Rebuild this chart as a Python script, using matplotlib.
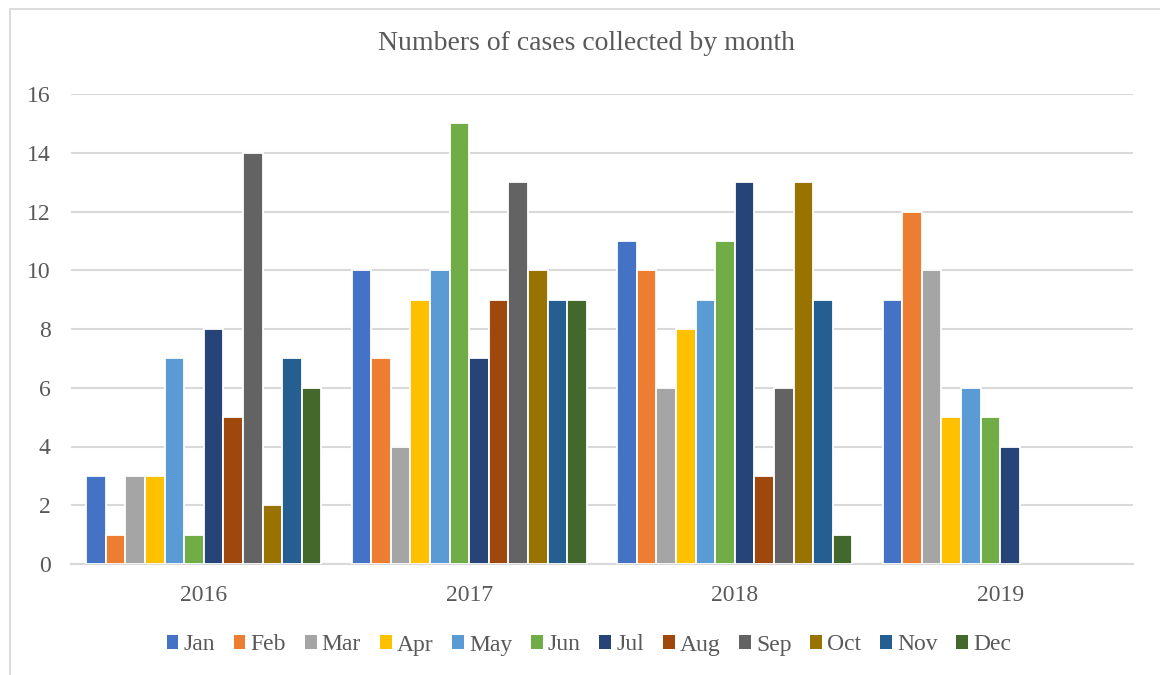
import numpy as np
import matplotlib
matplotlib.use("Agg")
import matplotlib.pyplot as plt
from matplotlib.patches import Rectangle

years = ["2016", "2017", "2018", "2019"]
months = ["Jan", "Feb", "Mar", "Apr", "May", "Jun", "Jul", "Aug", "Sep", "Oct", "Nov", "Dec"]
colors = ["#4472C4", "#ED7D31", "#A5A5A5", "#FFC000", "#5B9BD5", "#70AD47",
          "#264478", "#9E480E", "#636363", "#997300", "#255E91", "#43682B"]

# cases per month, one list per month across the years
jan = [3, 10, 11, 9]
feb = [1, 7, 10, 12]
mar = [3, 4, 6, 10]
apr = [3, 9, 8, 5]
may = [7, 10, 9, 6]
jun = [1, 15, 11, 5]
jul = [8, 7, 13, 4]
aug = [5, 9, 3, np.nan]
sep = [14, 13, 6, np.nan]
oct_ = [2, 10, 13, np.nan]
nov = [7, 9, 9, np.nan]
dec = [6, 9, 1, np.nan]
series = [jan, feb, mar, apr, may, jun, jul, aug, sep, oct_, nov, dec]

plt.rcParams["font.family"] = ["Liberation Serif", "DejaVu Serif"]
text_color = "#595959"

fig = plt.figure(figsize=(11.6, 6.75), dpi=100)
ax = fig.add_axes([71 / 1160, 1 - 564 / 675, (1133 - 71) / 1160, (564 - 94) / 675])

# chart frame (left and top edges visible)
fig.add_artist(Rectangle((9.5 / 1160, -0.05), 1.2, 1 - 8.5 / 675 + 0.05,
                         transform=fig.transFigure, fill=False,
                         edgecolor="#d9d9d9", linewidth=1.3))

x = np.arange(len(years))
slot = 0.0738
for i, (vals, c, m) in enumerate(zip(series, colors, months)):
    offs = (i - 5.5) * slot
    ax.bar(x + offs, vals, width=slot, color=c, edgecolor="white",
           linewidth=1.3, label=m, zorder=3)

ax.set_xlim(-0.5, 3.5)
ax.set_ylim(0, 16)
ax.set_yticks(range(0, 17, 2))
ax.set_xticks(x)
ax.set_xticklabels(years)
ax.grid(axis="y", color="#d9d9d9", linewidth=1.5, zorder=0)
ax.set_axisbelow(True)
for s in ["top", "right", "left"]:
    ax.spines[s].set_visible(False)
ax.spines["bottom"].set_color("#d9d9d9")
ax.spines["bottom"].set_linewidth(1.5)
ax.tick_params(axis="both", length=0, labelsize=17, labelcolor=text_color)
ax.tick_params(axis="y", pad=14.5)
ax.tick_params(axis="x", pad=15)

fig.text(586 / 1160, 1 - 44 / 675, "Numbers of cases collected by month",
         ha="center", va="center", fontsize=20, color=text_color)

leg = fig.legend(loc="center", bbox_to_anchor=(589 / 1160, 1 - 645 / 675),
                 ncol=12, frameon=False, fontsize=17, handlelength=0.5,
                 handleheight=0.5, handletextpad=0.22, columnspacing=0.79,
                 labelcolor=text_color)
for h in leg.legend_handles:
    h.set_linewidth(0)

fig.savefig("out.png", dpi=100, facecolor="white")
